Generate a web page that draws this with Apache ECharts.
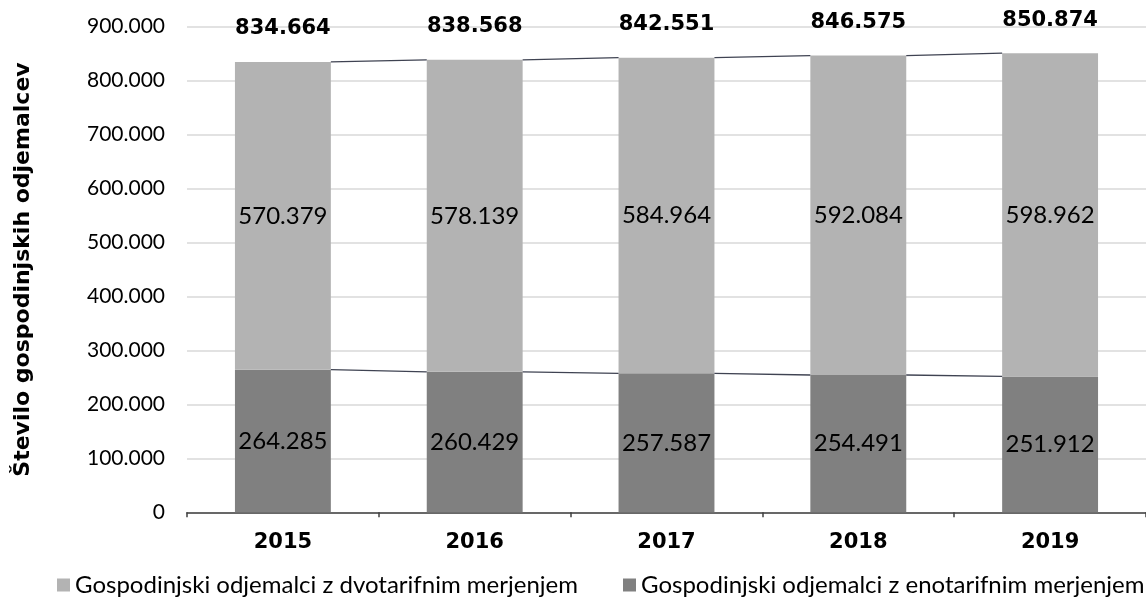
<!DOCTYPE html>
<html>
<head>
<meta charset="utf-8">
<script src="https://cdn.jsdelivr.net/npm/echarts@6/dist/echarts.min.js"></script>
<style>html,body{margin:0;padding:0;background:#fff;}#c{width:1146px;height:598px;}</style>
</head>
<body>
<div id="c"></div>
<script>
const years = ['2015','2016','2017','2018','2019'];
const enotarifni = [264285, 260429, 257587, 254491, 251912];
const dvotarifni = [570379, 578139, 584964, 592084, 598962];
const totals = [834664, 838568, 842551, 846575, 850874];
const nameDvo = 'Gospodinjski odjemalci z dvotarifnim merjenjem';
const nameEno = 'Gospodinjski odjemalci z enotarifnim merjenjem';
const yTitle = 'Število gospodinjskih odjemalcev';

const FONT = 'Lato';
const BOLD = 'DejaVu Sans';
function fmt(v){ return String(v).replace(/\B(?=(\d{3})+(?!\d))/g, '.'); }

function connector(levels){
  return function(params, api){
    const i = api.value(0);
    if (i >= levels.length - 1) return;
    const half = api.size([1, 0])[0] * 0.25;
    const p0 = api.coord([i, levels[i]]);
    const p1 = api.coord([i + 1, levels[i + 1]]);
    return {
      type: 'line',
      shape: {x1: p0[0] + half, y1: p0[1], x2: p1[0] - half, y2: p1[1]},
      style: {stroke: '#3f4352', lineWidth: 1.3}
    };
  };
}

function totalLabel(params, api){
  const i = api.value(0);
  const p = api.coord([i, api.value(1)]);
  return {
    type: 'text',
    x: p[0], y: p[1] - 33,
    style: {text: fmt(api.value(1)), fill: '#000', align: 'center', verticalAlign: 'middle',
            font: 'bold 21px "' + BOLD + '"'}
  };
}

const chart = echarts.init(document.getElementById('c'), null, {renderer: 'canvas'});
chart.setOption({
  animation: false,
  textStyle: {fontFamily: FONT},
  grid: {left: 187, top: 26.7, width: 965, bottom: 85.7},
  legend: [
    {data: [nameDvo], left: 52, top: 568, itemWidth: 13, itemHeight: 13, icon: 'rect', itemGap: 0,
     textStyle: {fontFamily: FONT, fontSize: 24, color: '#000'}},
    {data: [nameEno], left: 618, top: 568, itemWidth: 13, itemHeight: 13, icon: 'rect', itemGap: 0,
     textStyle: {fontFamily: FONT, fontSize: 24, color: '#000'}}
  ],
  xAxis: {
    type: 'category', data: years,
    axisLine: {lineStyle: {color: '#404040', width: 1.5}},
    axisTick: {show: true, length: 5, lineStyle: {color: '#404040', width: 1.5}},
    axisLabel: {fontFamily: BOLD, fontSize: 21, fontWeight: 'bold', color: '#000', margin: 20}
  },
  yAxis: {
    type: 'value', min: 0, max: 900000, interval: 100000,
    name: yTitle, nameLocation: 'middle', nameGap: 153,
    nameTextStyle: {fontFamily: BOLD, fontSize: 22, fontWeight: 'bold', color: '#000'},
    axisLabel: {formatter: fmt, fontFamily: FONT, fontSize: 21, color: '#000', margin: 22},
    splitLine: {lineStyle: {color: '#d9d9d9', width: 1.5}},
    axisLine: {show: false}, axisTick: {show: false}
  },
  series: [
    {name: nameEno, type: 'bar', stack: 't', data: enotarifni, barWidth: '50%',
     itemStyle: {color: '#808080'},
     label: {show: true, position: 'inside', formatter: p => fmt(p.value), fontFamily: FONT, fontSize: 24, color: '#000'}},
    {name: nameDvo, type: 'bar', stack: 't', data: dvotarifni,
     itemStyle: {color: '#b3b3b3'},
     label: {show: true, position: 'inside', formatter: p => fmt(p.value), fontFamily: FONT, fontSize: 24, color: '#000'}},
    {type: 'custom', renderItem: connector(enotarifni), data: enotarifni.map((v, i) => [i, v]), z: 5, silent: true},
    {type: 'custom', renderItem: connector(totals), data: totals.map((v, i) => [i, v]), z: 5, silent: true},
    {type: 'custom', renderItem: totalLabel, data: totals.map((v, i) => [i, v]), z: 6, silent: true}
  ]
});
</script>
</body>
</html>
